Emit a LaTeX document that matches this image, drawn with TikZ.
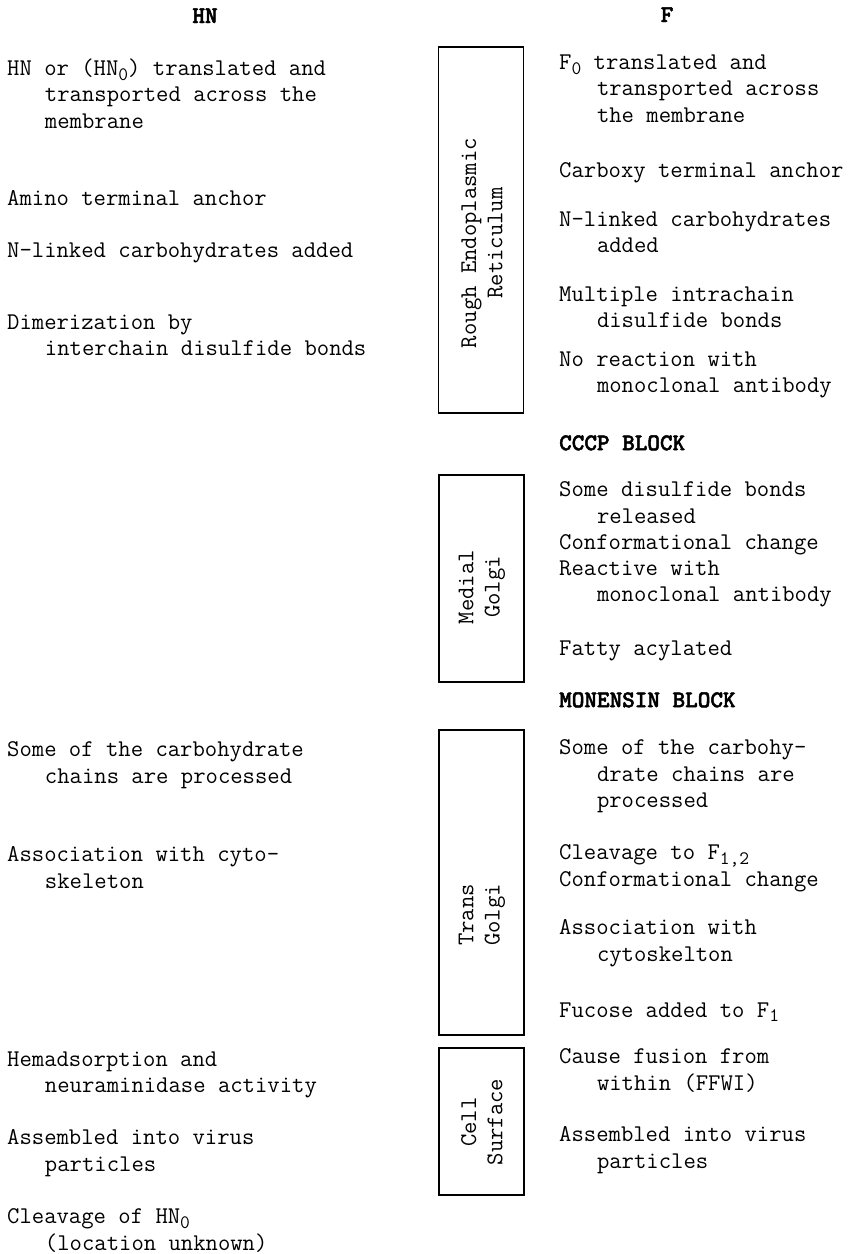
\documentclass[tikz,border=0pt]{standalone}
\usepackage{fontspec}
\usepackage{tikz}
\newfontfamily\headfont{lmmonolt10-bold.otf}[FakeBold=2]

\newcommand\ind{\hspace*{1.575em}}
\newcommand\sub[1]{\raisebox{-0.45ex}{\fontsize{19}{19}\selectfont #1}}

\begin{document}
\begin{tikzpicture}
    [x=1pt,y=-1pt,every node/.style={inner sep=0pt,font=\ttfamily\fontsize{24}{26.3}\selectfont},
     item/.style={anchor=north west,align=left,yshift=18.41pt,execute at begin node=\strut},
     head/.style={font=\headfont\fontsize{24}{26.3}\selectfont},
     stage/.style={draw,line width=1.4pt,minimum width=85pt},
     stagelabel/.style={rotate=90,align=center}]
    \useasboundingbox (0,0) rectangle (859,1254);
    \node[head,anchor=base] (hn) at (205,23) {HN};
    \node[head,anchor=base] (f) at (667,22) {F};
    \node[item] (hna) at (7,77) {HN or (HN\sub{0}) translated and\\\ind transported across the\\\ind membrane};
    \node[item] (hnb) at (7,205) {Amino terminal anchor};
    \node[item] (hnc) at (7,257) {N-linked carbohydrates added};
    \node[item] (hnd) at (7,333) {Dimerization by\\\ind interchain disulfide bonds};
    \node[item] (hne) at (7,760) {Some of the carbohydrate\\\ind chains are processed};
    \node[item] (hnf) at (7,865) {Association with cyto-\\\ind skeleton};
    \node[item] (hng) at (7,1070) {Hemadsorption and\\\ind neuraminidase activity};
    \node[item] (hnh) at (7,1148) {Assembled into virus\\\ind particles};
    \node[item] (hni) at (7,1227) {Cleavage of HN\sub{0}\\\ind (location unknown)};
    \node[stage,minimum height=366pt] (rer) at (481,230) {};
    \node[stage,minimum height=207pt] (medial) at (481.5,578.5) {};
    \node[stage,minimum height=305pt] (trans) at (481.5,882.5) {};
    \node[stage,minimum height=147pt] (cell) at (481.5,1121.5) {};
    \node[stagelabel] (rerlbl) at (482,243) {Rough Endoplasmic\\Reticulum};
    \node[stagelabel] (mediallbl) at (482,587) {Medial\\Golgi};
    \node[stagelabel] (translbl) at (482,915) {Trans\\Golgi};
    \node[stagelabel] (celllbl) at (482,1122) {Cell\\Surface};
    \node[item] (fa) at (559,73) {F\sub{0} translated and\\\ind transported across\\\ind the membrane};
    \node[item] (fb) at (559,177) {Carboxy terminal anchor};
    \node[item] (fc) at (559,230) {N-linked carbohydrates\\\ind added};
    \node[item] (fd) at (559,305) {Multiple intrachain\\\ind disulfide bonds};
    \node[item] (fe) at (559,370) {No reaction with\\\ind monoclonal antibody};
    \node[item,head] (cccp) at (559,450) {CCCP BLOCK};
    \node[item] (ff) at (559,500) {Some disulfide bonds\\\ind released\\Conformational change\\Reactive with\\\ind monoclonal antibody};
    \node[item] (fg) at (559,655) {Fatty acylated};
    \node[item,head] (monensin) at (559,707) {MONENSIN BLOCK};
    \node[item] (fh) at (559,758) {Some of the carbohy-\\\ind drate chains are\\\ind processed};
    \node[item] (fi) at (559,863) {Cleavage to F\sub{1,2}\\Conformational change};
    \node[item] (fj) at (559,938) {Association with\\\ind cytoskelton};
    \node[item] (fk) at (559,1017) {Fucose added to F\sub{1}};
    \node[item] (fl) at (559,1067) {Cause fusion from\\\ind within (FFWI)};
    \node[item] (fm) at (559,1145) {Assembled into virus\\\ind particles};
  \end{tikzpicture}
\end{document}
